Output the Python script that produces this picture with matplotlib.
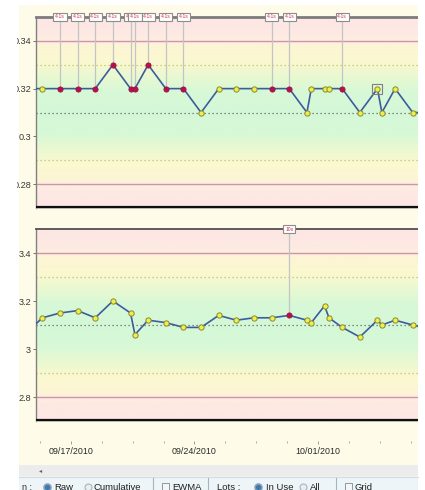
import numpy as np
import pandas as pd
import matplotlib
matplotlib.use('Agg')
import matplotlib.pyplot as plt
import matplotlib.dates as mdates
from matplotlib.patches import Rectangle
from matplotlib.colors import to_rgb

plt.rcParams['font.family'] = ['Liberation Sans', 'DejaVu Sans']

# QC runs (first and last fall just outside the visible window)
run_times = ['2010-09-14 09:00', '2010-09-15 09:00', '2010-09-16 09:00', '2010-09-17 09:00',
             '2010-09-18 09:00', '2010-09-19 09:00', '2010-09-20 09:00', '2010-09-20 15:00',
             '2010-09-21 09:00', '2010-09-22 09:00', '2010-09-23 09:00', '2010-09-24 09:00',
             '2010-09-25 09:00', '2010-09-26 09:00', '2010-09-27 09:00', '2010-09-28 09:00',
             '2010-09-29 09:00', '2010-09-30 09:00', '2010-09-30 15:00', '2010-10-01 09:00',
             '2010-10-01 15:00', '2010-10-02 09:00', '2010-10-03 09:00', '2010-10-04 09:00',
             '2010-10-04 15:00', '2010-10-05 09:00', '2010-10-06 09:00', '2010-10-07 09:00']

level1_values = [0.32, 0.32, 0.32, 0.32, 0.32, 0.33, 0.32, 0.32, 0.33, 0.32, 0.32, 0.31, 0.32, 0.32,
                 0.32, 0.32, 0.32, 0.31, 0.32, 0.32, 0.32, 0.32, 0.31, 0.32, 0.31, 0.32, 0.31, 0.31]
level1_rules = ['', '', '4-1s', '4-1s', '4-1s', '4-1s', '4-1s', '4-1s', '4-1s', '4-1s', '4-1s', '', '', '',
                '', '4-1s', '4-1s', '', '', '', '', '4-1s', '', '', '', '', '', '']
level1_mean, level1_sd = 0.31, 0.01

level2_values = [3.06, 3.13, 3.15, 3.16, 3.13, 3.20, 3.15, 3.06, 3.12, 3.11, 3.09, 3.09, 3.14, 3.12,
                 3.13, 3.13, 3.14, 3.12, 3.11, 3.18, 3.13, 3.09, 3.05, 3.12, 3.10, 3.12, 3.10, 3.08]
level2_rules = [''] * 16 + ['10x'] + [''] * 11
level2_mean, level2_sd = 3.1, 0.1

selected_run = 23

times = pd.to_datetime(run_times)
t_num = mdates.date2num(times)
ref_day = mdates.date2num(pd.Timestamp('2010-09-17'))

W, H = 425, 490
fig = plt.figure(figsize=(W / 100, H / 100), dpi=100)
fig.patch.set_facecolor('white')


def px_axes(l, t, r, b, **kw):
    return fig.add_axes([l / W, 1 - b / H, (r - l) / W, (b - t) / H], **kw)


# background of the chart control
bg = px_axes(0, 0, W, H, zorder=-5)
bg.set_xlim(0, W)
bg.set_ylim(H, 0)
bg.axis('off')
bg.add_patch(Rectangle((19, 5), 399, 460, facecolor='#fefce8', edgecolor='none'))

# zone colours by distance from the mean (in SD)
zone_z = [0, 0.9, 1.7, 2.2, 2.8, 3.3, 4.5]
zone_c = ['#d4f8d8', '#d8f8d6', '#eef9d0', '#fbf8d0', '#fdf5d6', '#fde9e3', '#fde4e4']
zone_rgb = np.array([to_rgb(c) for c in zone_c])


def qc_panel(ax, values, rules, mean, sd, ticks, ticklabels, show_dates):
    ylo, yhi = mean - 4 * sd, mean + 4 * sd
    yy = np.linspace(yhi, ylo, 300)
    z = np.abs(yy - mean) / sd
    img = np.stack([np.interp(z, zone_z, zone_rgb[:, i]) for i in range(3)], axis=-1)
    img = np.repeat(img[:, None, :], 2, axis=1)
    ax.imshow(img, extent=[0, 1, 0, 1], transform=ax.transAxes, aspect='auto', zorder=0,
              interpolation='bilinear')

    # control lines
    ax.axhline(mean, color='#5a6a5a', lw=0.9, ls=(0, (1, 2.2)), zorder=1)
    for k in (-2, 2):
        ax.axhline(mean + k * sd, color='#c8bc60', lw=0.9, ls=(0, (1, 2.2)), zorder=1)
    for k in (-3, 3):
        ax.axhline(mean + k * sd, color='#d090b4', lw=1.0, zorder=1)

    # rule violation flags
    for t, v, r in zip(t_num, values, rules):
        if r:
            ax.plot([t, t], [v, yhi], color='#c4c4c4', lw=0.9, zorder=2)
            ax.annotate(r, xy=(t, 1.0), xycoords=('data', 'axes fraction'), ha='center',
                        va='center', fontsize=3.6, color='#c8304a', zorder=8,
                        annotation_clip=False,
                        bbox=dict(boxstyle='square,pad=0.35', fc='white', ec='#8c8c8c', lw=0.8))

    ax.plot(t_num, values, color='#3d5c9e', lw=1.2, zorder=3)
    reds = [i for i, r in enumerate(rules) if r]
    ok = [i for i, r in enumerate(rules) if not r]
    ax.plot(t_num[ok], np.array(values)[ok], ls='none', marker='o', ms=3.8, mfc='#eeee50',
            mec='#8a8a2c', mew=0.7, zorder=4)
    ax.plot(t_num[reds], np.array(values)[reds], ls='none', marker='o', ms=3.8, mfc='#b8104a',
            mec='#901040', mew=0.5, zorder=4)

    ax.set_xlim(ref_day - 1.984, ref_day + 19.73)
    ax.set_ylim(ylo, yhi)
    ax.set_yticks(ticks)
    ax.set_yticklabels(ticklabels)
    ax.tick_params(axis='y', length=2.5, width=0.7, color='#707070', pad=1,
                   labelsize=6.6, labelcolor='#383838')

    ax.spines['right'].set_visible(False)
    ax.spines['top'].set_color('#7c7c7c')
    ax.spines['top'].set_linewidth(2.0)
    ax.spines['left'].set_color('#808080')
    ax.spines['left'].set_linewidth(1.0)
    ax.spines['bottom'].set_visible(False)
    ax.plot([0, 1], [0, 0], transform=ax.transAxes, color='#c8c8c0', lw=1.2,
            clip_on=False, zorder=9, solid_capstyle='butt')
    ax.plot([0, 1], [0.004, 0.004], transform=ax.transAxes, color='#101010', lw=1.6,
            clip_on=False, zorder=10, solid_capstyle='butt')

    if show_dates:
        ax.spines['bottom'].set_position(('outward', 14.4))
        ax.xaxis.set_major_locator(mdates.DayLocator(bymonthday=[17, 24, 1]))
        ax.xaxis.set_major_formatter(mdates.DateFormatter('%m/%d/%Y'))
        ax.xaxis.set_minor_locator(
            matplotlib.ticker.FixedLocator(ref_day + 1.75 * np.arange(-1, 12)))
        ax.tick_params(axis='x', which='major', length=2.5, width=0.6, color='#909090',
                       pad=2, labelsize=6.4, labelcolor='#282828')
        ax.tick_params(axis='x', which='minor', length=1.5, width=0.6, color='#a0a0a0')
    else:
        ax.set_xticks([])


ax1 = px_axes(36, 17, 419, 208)
qc_panel(ax1, level1_values, level1_rules, level1_mean, level1_sd,
         [0.28, 0.30, 0.32, 0.34], ['0.28', '0.3', '0.32', '0.34'], False)
ax1.plot(t_num[selected_run], level1_values[selected_run], marker='s', ms=6.5, mfc='none',
         mec='#808080', mew=0.8, ls='none', zorder=5)

ax2 = px_axes(36, 229, 419, 421)
qc_panel(ax2, level2_values, level2_rules, level2_mean, level2_sd,
         [2.8, 3.0, 3.2, 3.4], ['2.8', '3', '3.2', '3.4'], True)
ax2.spines['top'].set_color('#505050')
ax2.spines['top'].set_linewidth(1.3)

# overlay: clipped left edge, scroll bar and toolbar
ov = px_axes(0, 0, W, H, zorder=20)
ov.set_xlim(0, W)
ov.set_ylim(H, 0)
ov.axis('off')
ov.patch.set_alpha(0)
ov.add_patch(Rectangle((0, 0), 17, H, facecolor='white', edgecolor='none'))
ov.add_patch(Rectangle((418, 0), 7, H, facecolor='white', edgecolor='none'))
ov.add_patch(Rectangle((19, 465), 399, 11, facecolor='#ececec', edgecolor='none'))
ov.text(41, 470.5, '\u25c2', fontsize=4.5, color='#606060', ha='center', va='center',
        family='DejaVu Sans')
ov.add_patch(Rectangle((19, 476), 399, 14, facecolor='#eef5f8', edgecolor='none'))
ov.plot([19, 418], [476.5, 476.5], color='#d4dcdf', lw=0.8)

ty = 487
ov.text(22, ty, 'n :', fontsize=6.5, color='#303030', va='center')
ov.plot(47, ty, marker='o', ms=5, mfc='#3a7ab0', mec='#8aa0b8', mew=1.2)
ov.text(54, ty, 'Raw', fontsize=6.8, color='#202020', va='center')
ov.plot(88, ty, marker='o', ms=5, mfc='#e8eef2', mec='#a8b4bc', mew=0.8)
ov.text(94, ty, 'Cumulative', fontsize=6.8, color='#202020', va='center')
ov.plot([153, 153], [478, 490], color='#a8b4bc', lw=0.8)
ov.add_patch(Rectangle((162, 483), 7, 7, facecolor='#f4f6f8', edgecolor='#8c98a0', lw=0.7))
ov.text(172, ty, 'EWMA', fontsize=6.8, color='#202020', va='center')
ov.plot([208, 208], [478, 490], color='#a8b4bc', lw=0.8)
ov.text(217, ty, 'Lots :', fontsize=6.8, color='#202020', va='center')
ov.plot(258, ty, marker='o', ms=5, mfc='#3a7ab0', mec='#8aa0b8', mew=1.2)
ov.text(266, ty, 'In Use', fontsize=6.8, color='#202020', va='center')
ov.plot(303, ty, marker='o', ms=5, mfc='#e8eef2', mec='#a8b4bc', mew=0.8)
ov.text(310, ty, 'All', fontsize=6.8, color='#202020', va='center')
ov.plot([336, 336], [478, 490], color='#a8b4bc', lw=0.8)
ov.add_patch(Rectangle((345, 483), 7, 7, facecolor='#f4f6f8', edgecolor='#8c98a0', lw=0.7))
ov.text(355, ty, 'Grid', fontsize=6.8, color='#202020', va='center')

fig.savefig('out.png', dpi=100)
